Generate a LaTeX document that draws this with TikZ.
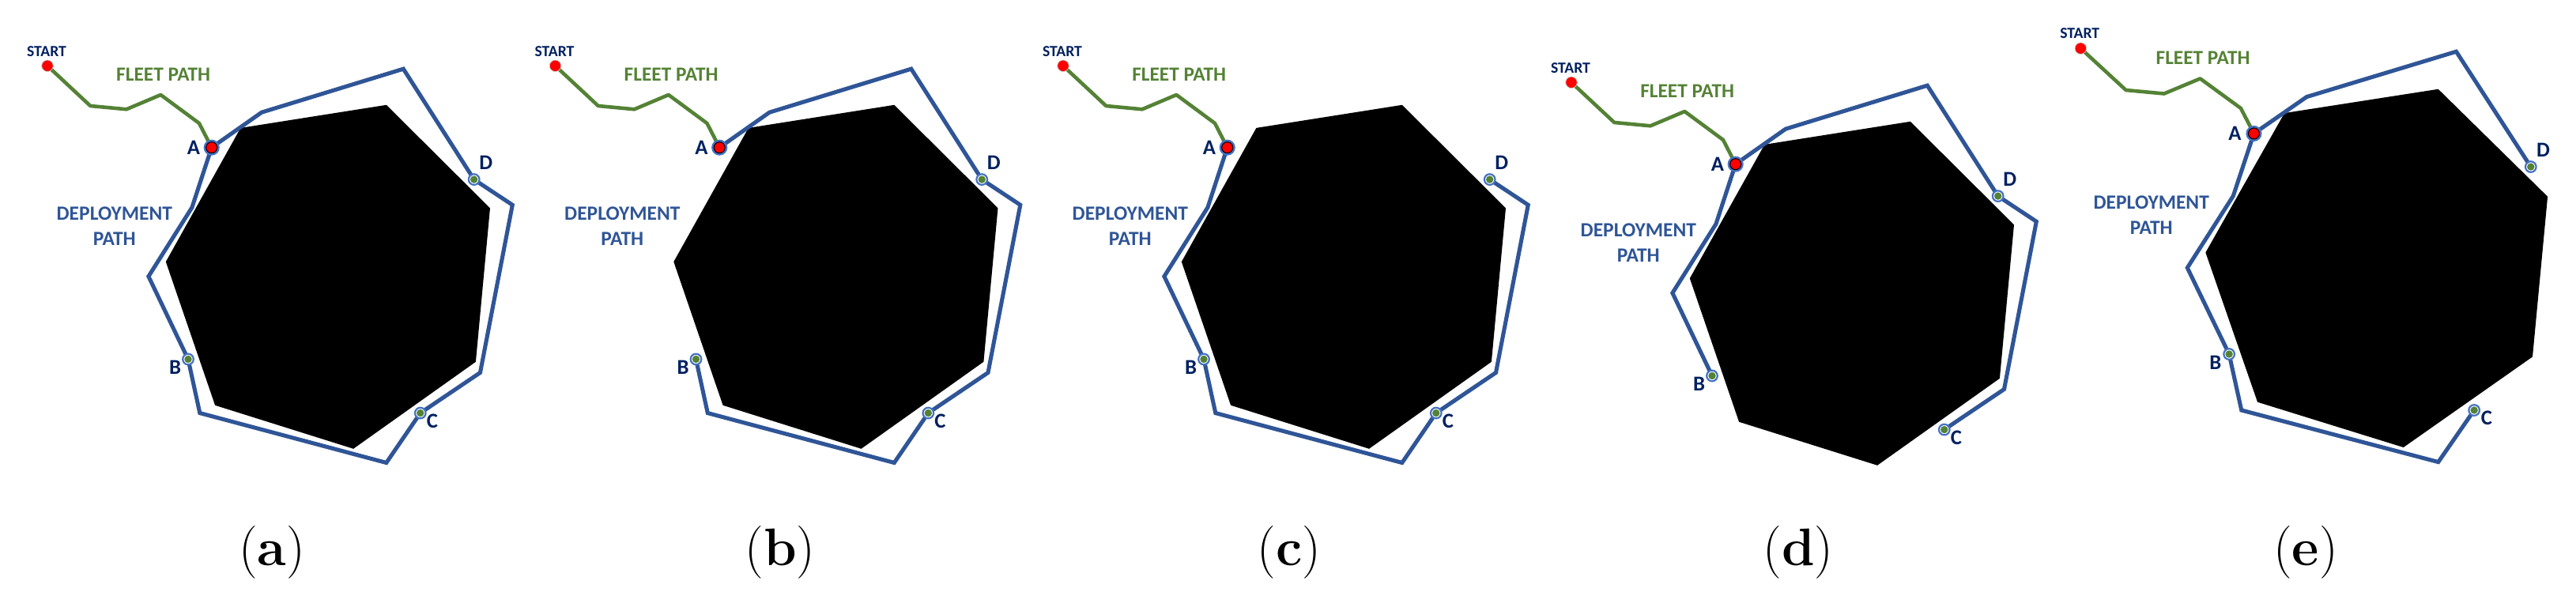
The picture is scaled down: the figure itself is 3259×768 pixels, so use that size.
\documentclass[tikz,border=0pt]{standalone}
\usepackage{fontspec}
\newfontfamily\labfont{Carlito}
\definecolor{depblue}{RGB}{47,85,151}
\definecolor{ringblue}{RGB}{68,114,196}
\definecolor{fleetgreen}{RGB}{84,130,53}
\definecolor{navy}{RGB}{0,32,96}
\newcommand{\basepanel}[1]{%
  \coordinate (#1S) at (60,83.3);
  \coordinate (#1F1) at (114.3,134);
  \coordinate (#1F2) at (160,138.3);
  \coordinate (#1F3) at (203.3,120);
  \coordinate (#1F4) at (252,156);
  \coordinate (#1A) at (267.7,186.7);
  \coordinate (#1P1) at (331,142.2);
  \coordinate (#1P2) at (510.3,87.2);
  \coordinate (#1D) at (599.7,227.1);
  \coordinate (#1P3) at (648.3,259.3);
  \coordinate (#1P4) at (607.5,471.5);
  \coordinate (#1C) at (531.8,522.6);
  \coordinate (#1P5) at (488.8,585.5);
  \coordinate (#1P6) at (252.8,522.6);
  \coordinate (#1B) at (238,454.5);
  \coordinate (#1P7) at (187.9,349.7);
  \coordinate (#1P8) at (242.9,262.5);
  \fill[obstacle] (304.4,161.9) -- (488.8,132.8) -- (620,263.3) -- (601.9,457.8)
     -- (447.1,567.8) -- (272.1,512.8) -- (209.8,331.2) -- cycle;
}
\newcommand{\toppanel}[1]{%
  \draw[fleet] (#1S) -- (#1F1) -- (#1F2) -- (#1F3) -- (#1F4) -- (#1A);
  \node[startdot] (#1Sm) at (#1S) {};
  \node[amark] (#1Am) at (#1A) {};
  \node[wmark] (#1Bm) at (#1B) {};
  \node[wmark] (#1Cm) at (#1C) {};
  \node[wmark] (#1Dm) at (#1D) {};
  \node[starttext] (#1st) at (59,64.7) {START};
  \node[fleettext] (#1ft) at (206.7,94.5) {FLEET PATH};
  \node[deptext] (#1dt) at (144.8,285.7) {DEPLOYMENT\\PATH};
  \node[ptlabel] (#1la) at (245,187) {A};
  \node[ptlabel] (#1lb) at (221.7,465) {B};
  \node[ptlabel] (#1lc) at (546.9,532.4) {C};
  \node[ptlabel] (#1ld) at (614.8,206.3) {D};
}
\begin{document}
\begin{tikzpicture}[x=0.01cm,y=-0.01cm,
  obstacle/.style={fill=black},
  deploy/.style={draw=depblue, line width=1.45pt, line join=miter},
  fleet/.style={draw=fleetgreen, line width=1.3pt, line join=round},
  amark/.style={circle, inner sep=0pt, minimum size=0.14cm, fill=red, draw=black,
     line width=0.3pt, preaction={draw=ringblue, line width=0.06cm}},
  wmark/.style={circle, inner sep=0pt, minimum size=0.136cm, fill=white, draw=ringblue,
     line width=0.022cm, path picture={\fill[fleetgreen] (path picture bounding box.center) circle (0.047cm);}},
  startdot/.style={circle, inner sep=0pt, minimum size=0.145cm, fill=red, draw=black!20, line width=0.2pt},
  ptlabel/.style={text=navy, inner sep=0pt, font=\labfont\bfseries\fontsize{7.6}{8}\selectfont},
  starttext/.style={text=navy, inner sep=0pt, font=\labfont\bfseries\fontsize{5.6}{6}\selectfont},
  fleettext/.style={text=fleetgreen, inner sep=0pt, font=\labfont\bfseries\fontsize{7.2}{8}\selectfont},
  deptext/.style={text=depblue, inner sep=0pt, align=center, font=\labfont\bfseries\fontsize{7.25}{9.1}\selectfont},
  captext/.style={inner sep=0pt, anchor=base, font=\fontsize{19}{22}\selectfont}
]
\path[fill=white] (0,0) rectangle (3259,768);
\useasboundingbox (0,0) rectangle (3259,768);
% (a)
\begin{scope}
  \basepanel{a}
  \draw[deploy] (aA) -- (aP1) -- (aP2) -- (aD) -- (aP3) -- (aP4) -- (aC) -- (aP5)
     -- (aP6) -- (aB) -- (aP7) -- (aP8) -- cycle;
  \toppanel{a}
\end{scope}
% (b)
\begin{scope}[shift={(642.5,0)}]
  \basepanel{b}
  \draw[deploy] (bA) -- (bP1) -- (bP2) -- (bD) -- (bP3) -- (bP4) -- (bC) -- (bP5)
     -- (bP6) -- (bB);
  \toppanel{b}
\end{scope}
% (c)
\begin{scope}[shift={(1285,0)}]
  \basepanel{c}
  \draw[deploy] (cD) -- (cP3) -- (cP4) -- (cC) -- (cP5) -- (cP6) -- (cB) -- (cP7)
     -- (cP8) -- (cA);
  \toppanel{c}
\end{scope}
% (d)
\begin{scope}[shift={(1928,21)}]
  \basepanel{d}
  \draw[deploy] (dC) -- (dP4) -- (dP3) -- (dD) -- (dP2) -- (dP1) -- (dA) -- (dP8)
     -- (dP7) -- (dB);
  \toppanel{d}
\end{scope}
% (e)
\begin{scope}[shift={(2569,-25.6)}, xscale=1.055, yscale=1.042]
  \basepanel{e}
  \draw[deploy] (eD) -- (eP2) -- (eP1) -- (eA) -- (eP8) -- (eP7) -- (eB) -- (eP6)
     -- (eP5) -- (eC);
  \toppanel{e}
\end{scope}
\node[captext] (capa) at (344,716) {(\textbf{a})};
\node[captext] (capb) at (987,716) {(\textbf{b})};
\node[captext] (capc) at (1631,716) {(\textbf{c})};
\node[captext] (capd) at (2275,716) {(\textbf{d})};
\node[captext] (cape) at (2917,716) {(\textbf{e})};
\end{tikzpicture}
\end{document}
